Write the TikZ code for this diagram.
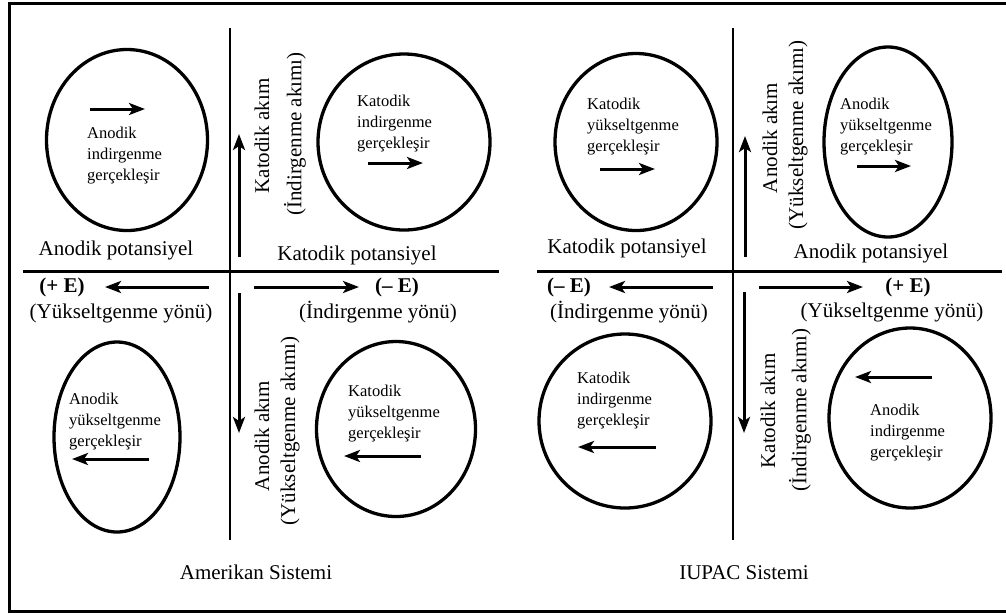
\documentclass[tikz,border=0pt]{standalone}
\usepackage{fontspec}
\setmainfont{Liberation Serif}
\usetikzlibrary{arrows.meta,shapes.geometric}
\tikzset{
  ell/.style={draw, ellipse, line width=3.3pt, inner sep=0pt},
  axis/.style={line width=2.6pt},
  arr/.style={line width=3pt, -{Stealth[length=16pt,width=12pt,inset=4pt]}},
  big/.style={inner sep=0pt, font=\fontsize{21}{25}\selectfont},
  bigb/.style={inner sep=0pt, font=\fontsize{21}{25}\selectfont\bfseries},
  small/.style={inner sep=0pt, anchor=north west, align=left, font=\fontsize{16.5}{21}\selectfont},
  rot/.style={big, rotate=90}
}
\begin{document}
\begin{tikzpicture}[x=1pt,y=-1pt]
\useasboundingbox (0,0) rectangle (1006,614);
\coordinate (bt) at (1010,3.5); \coordinate (btl) at (9.5,3.5);
\coordinate (bbl) at (9.5,611); \coordinate (bb) at (1010,611);
\draw[line width=3pt] (bt) -- (btl) -- (bbl) -- (bb);

% ===== Amerikan Sistemi =====
\coordinate (lvt) at (230,28); \coordinate (lvb) at (230,540);
\coordinate (lhl) at (23,271.5); \coordinate (lhr) at (499,271.5);
\draw[axis] (lvt) -- (lvb);
\draw[axis] (lhl) -- (lhr);

\node[ell, minimum width=161pt, minimum height=181pt] (e1) at (127,140) {};
\coordinate (a1s) at (90,109); \coordinate (a1e) at (145,109);
\draw[arr] (a1s) -- (a1e);
\node[small] (t1) at (87,126.4) {Anodik\\indirgenme\\gerçekleşir};

\node[ell, minimum width=172pt, minimum height=176pt] (e2) at (404,142) {};
\node[small] (t2) at (357,94.4) {Katodik\\indirgenme\\gerçekleşir};
\coordinate (a2s) at (368,163); \coordinate (a2e) at (423,163);
\draw[arr] (a2s) -- (a2e);

\coordinate (u1s) at (239,257); \coordinate (u1e) at (239,134);
\draw[arr] (u1s) -- (u1e);
\node[rot] (r1) at (262,136) {Katodik akım};
\node[rot] (r2) at (295,134) {(İndirgenme akımı)};

\node[big] (p1) at (116,250) {Anodik potansiyel};
\node[big] (p2) at (357,255) {Katodik potansiyel};

\node[bigb] (pe1) at (62,287) {(+ E)};
\coordinate (h1s) at (209,287); \coordinate (h1e) at (105,287);
\draw[arr] (h1s) -- (h1e);
\coordinate (h2s) at (254,287); \coordinate (h2e) at (359,287);
\draw[arr] (h2s) -- (h2e);
\node[bigb] (me1) at (397,287) {(– E)};
\node[big] (y1) at (121,313) {(Yükseltgenme yönü)};
\node[big] (i1) at (378,312) {(İndirgenme yönü)};

\node[ell, minimum width=126pt, minimum height=190pt] (e3) at (117,437) {};
\node[small] (t3) at (69,392.4) {Anodik\\yükseltgenme\\gerçekleşir};
\coordinate (a3s) at (149,459); \coordinate (a3e) at (72,459);
\draw[arr] (a3s) -- (a3e);

\coordinate (d1s) at (239,293); \coordinate (d1e) at (239,433);
\draw[arr] (d1s) -- (d1e);
\node[rot] (r3) at (262,436) {Anodik akım};
\node[rot] (r4) at (290,431) {(Yükseltgenme akımı)};

\node[ell, minimum width=159pt, minimum height=175pt] (e4) at (396,429) {};
\node[small] (t4) at (348,384.4) {Katodik\\yükseltgenme\\gerçekleşir};
\coordinate (a4s) at (421,456); \coordinate (a4e) at (344,456);
\draw[arr] (a4s) -- (a4e);

\node[big] (s1) at (256,572) {Amerikan Sistemi};

% ===== IUPAC Sistemi =====
\coordinate (rvt) at (733,28); \coordinate (rvb) at (733,540);
\coordinate (rhl) at (537,271.5); \coordinate (rhr) at (1002,271.5);
\draw[axis] (rvt) -- (rvb);
\draw[axis] (rhl) -- (rhr);

\node[ell, minimum width=162pt, minimum height=177pt] (e5) at (636,142) {};
\node[small] (t5) at (587,97.4) {Katodik\\yükseltgenme\\gerçekleşir};
\coordinate (a5s) at (600,169); \coordinate (a5e) at (655,169);
\draw[arr] (a5s) -- (a5e);

\coordinate (u2s) at (745,257); \coordinate (u2e) at (745,136);
\draw[arr] (u2s) -- (u2e);
\node[rot] (r5) at (770,138) {Anodik akım};
\node[rot] (r6) at (798,135) {(Yükseltgenme akımı)};

\node[ell, minimum width=128pt, minimum height=190pt] (e6) at (888,142) {};
\node[small] (t6) at (840,97.4) {Anodik\\yükseltgenme\\gerçekleşir};
\coordinate (a6s) at (857,166); \coordinate (a6e) at (911,166);
\draw[arr] (a6s) -- (a6e);

\node[big] (p3) at (627,248) {Katodik potansiyel};
\node[big] (p4) at (871,253) {Anodik potansiyel};

\node[bigb] (me2) at (569,287) {(– E)};
\coordinate (h3s) at (713,287); \coordinate (h3e) at (609,287);
\draw[arr] (h3s) -- (h3e);
\coordinate (h4s) at (759,287); \coordinate (h4e) at (863,287);
\draw[arr] (h4s) -- (h4e);
\node[bigb] (pe2) at (908,287) {(+ E)};
\node[big] (i2) at (629,312) {(İndirgenme yönü)};
\node[big] (y2) at (892,312) {(Yükseltgenme yönü)};

\node[ell, minimum width=172pt, minimum height=174pt] (e7) at (625,421) {};
\node[small] (t7) at (577,371.4) {Katodik\\indirgenme\\gerçekleşir};
\coordinate (a7s) at (656,447); \coordinate (a7e) at (578,447);
\draw[arr] (a7s) -- (a7e);

\coordinate (d2s) at (744,292); \coordinate (d2e) at (744,433);
\draw[arr] (d2s) -- (d2e);
\node[rot] (r7) at (768,411) {Katodik akım};
\node[rot] (r8) at (800,410) {(İndirgenme akımı)};

\node[ell, minimum width=162pt, minimum height=180pt] (e8) at (910,418) {};
\coordinate (a8s) at (932,377); \coordinate (a8e) at (855,377);
\draw[arr] (a8s) -- (a8e);
\node[small] (t8) at (870,403.4) {Anodik\\indirgenme\\gerçekleşir};

\node[big] (s2) at (744,573) {IUPAC Sistemi};
\end{tikzpicture}
\end{document}
